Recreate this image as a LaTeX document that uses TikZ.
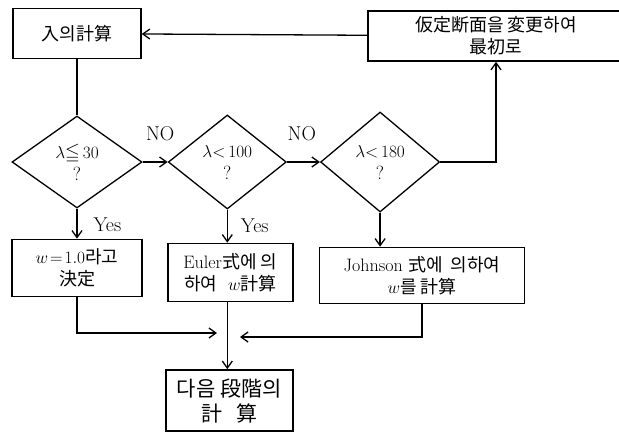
\documentclass[tikz,border=0pt]{standalone}
\usepackage{amsmath, amssymb}
\usepackage{fontspec}
\newfontfamily\kr{Noto Sans CJK KR}
\usetikzlibrary{positioning, shapes.geometric, arrows.meta}

\begin{document}
\begin{tikzpicture}[x=1pt, y=1pt,
     node distance = 30pt and 25pt,
                 > = {Straight Barb[length=7pt,width=10pt]},
        line width = 1.3pt,
        box/.style = {rectangle, draw, line width=1.5pt, align=center, inner sep=2pt,
                      font=\fontsize{18}{22}\selectfont},
       cond/.style = {diamond, draw, inner sep=0pt, align=center,
                      font=\fontsize{19}{22}\selectfont},
        lbl/.style = {font=\fontsize{20}{22}\selectfont, inner sep=1pt}
                    ]
\useasboundingbox (0,0) rectangle (619,-432);
% decisions
\node (d1) [cond, minimum width=130pt, minimum height=92pt] at (77,-162)
           {$\lambda{\leqq}\,30$\\?};
\node (d2) [cond, minimum width=118pt, minimum height=94pt, right=25pt of d1]
           {$\lambda{<}\,100$\\?};
\node (d3) [cond, minimum width=119pt, minimum height=100pt, right=33pt of d2]
           {$\lambda{<}\,180$\\?};
% top row
\node (calc)   [box, minimum width=128pt, minimum height=50pt, above=56pt of d1]
               {\kr 入의計算};
\node (change) [box, minimum width=256pt, minimum height=50pt] at (496,-36)
               {\kr 仮定断面을\ 変更하여\\\kr 最初로};
% results
\node (b1) [box, minimum width=130pt, minimum height=57pt, below=30pt of d1]
           {$w\!=\!1.0${\kr 라고}\\\kr 決定};
\node (b2) [box, minimum width=125pt, minimum height=58pt, below=33pt of d2, xshift=3pt]
           {Euler{\kr 式에 의}\\{\kr 하여}\ \ $w${\kr 計算}};
\node (b3) [box, minimum width=205pt, minimum height=56pt, below=34pt of d3, xshift=42pt]
           {Johnson {\kr 式에\ \ 의하여}\\$w${\kr 를\ 計算}};
\node (next) [box, line width=2pt, minimum width=127pt, minimum height=61pt,
              font=\fontsize{21}{25}\selectfont, below=67pt of b2, xshift=-1pt]
           {\kr 다음\ 段階의\\\kr 計\ \ \ 算};
\coordinate (joinL) at (217,-333);
\coordinate (joinR) at (240,-337);
% connectors
\draw (calc) -- (d1);
\draw[->] (d1) -- node[lbl, above=20pt, pos=0.7] {NO} (d2);
\draw[->] (d2) -- node[lbl, above=20pt, pos=0.45] {NO} (d3);
\draw[->] (d3.east) -| (change.south);
\draw[->] (change) -- (calc);
\draw[->] (d1) -- node[lbl, right=15pt, pos=0.55] {Yes} (b1);
\draw[->] (d2.south) -- node[lbl, right=12pt, pos=0.5] {Yes} (d2.south |- b2.north);
\draw[->] (d3.south) -- (d3.south |- b3.north);
\draw[->] (b2.south -| d2.south) -- (next.north -| d2.south);
\draw[->] (b1) |- (joinL);
\draw[->] (b3) |- (joinR);
\end{tikzpicture}
\end{document}
